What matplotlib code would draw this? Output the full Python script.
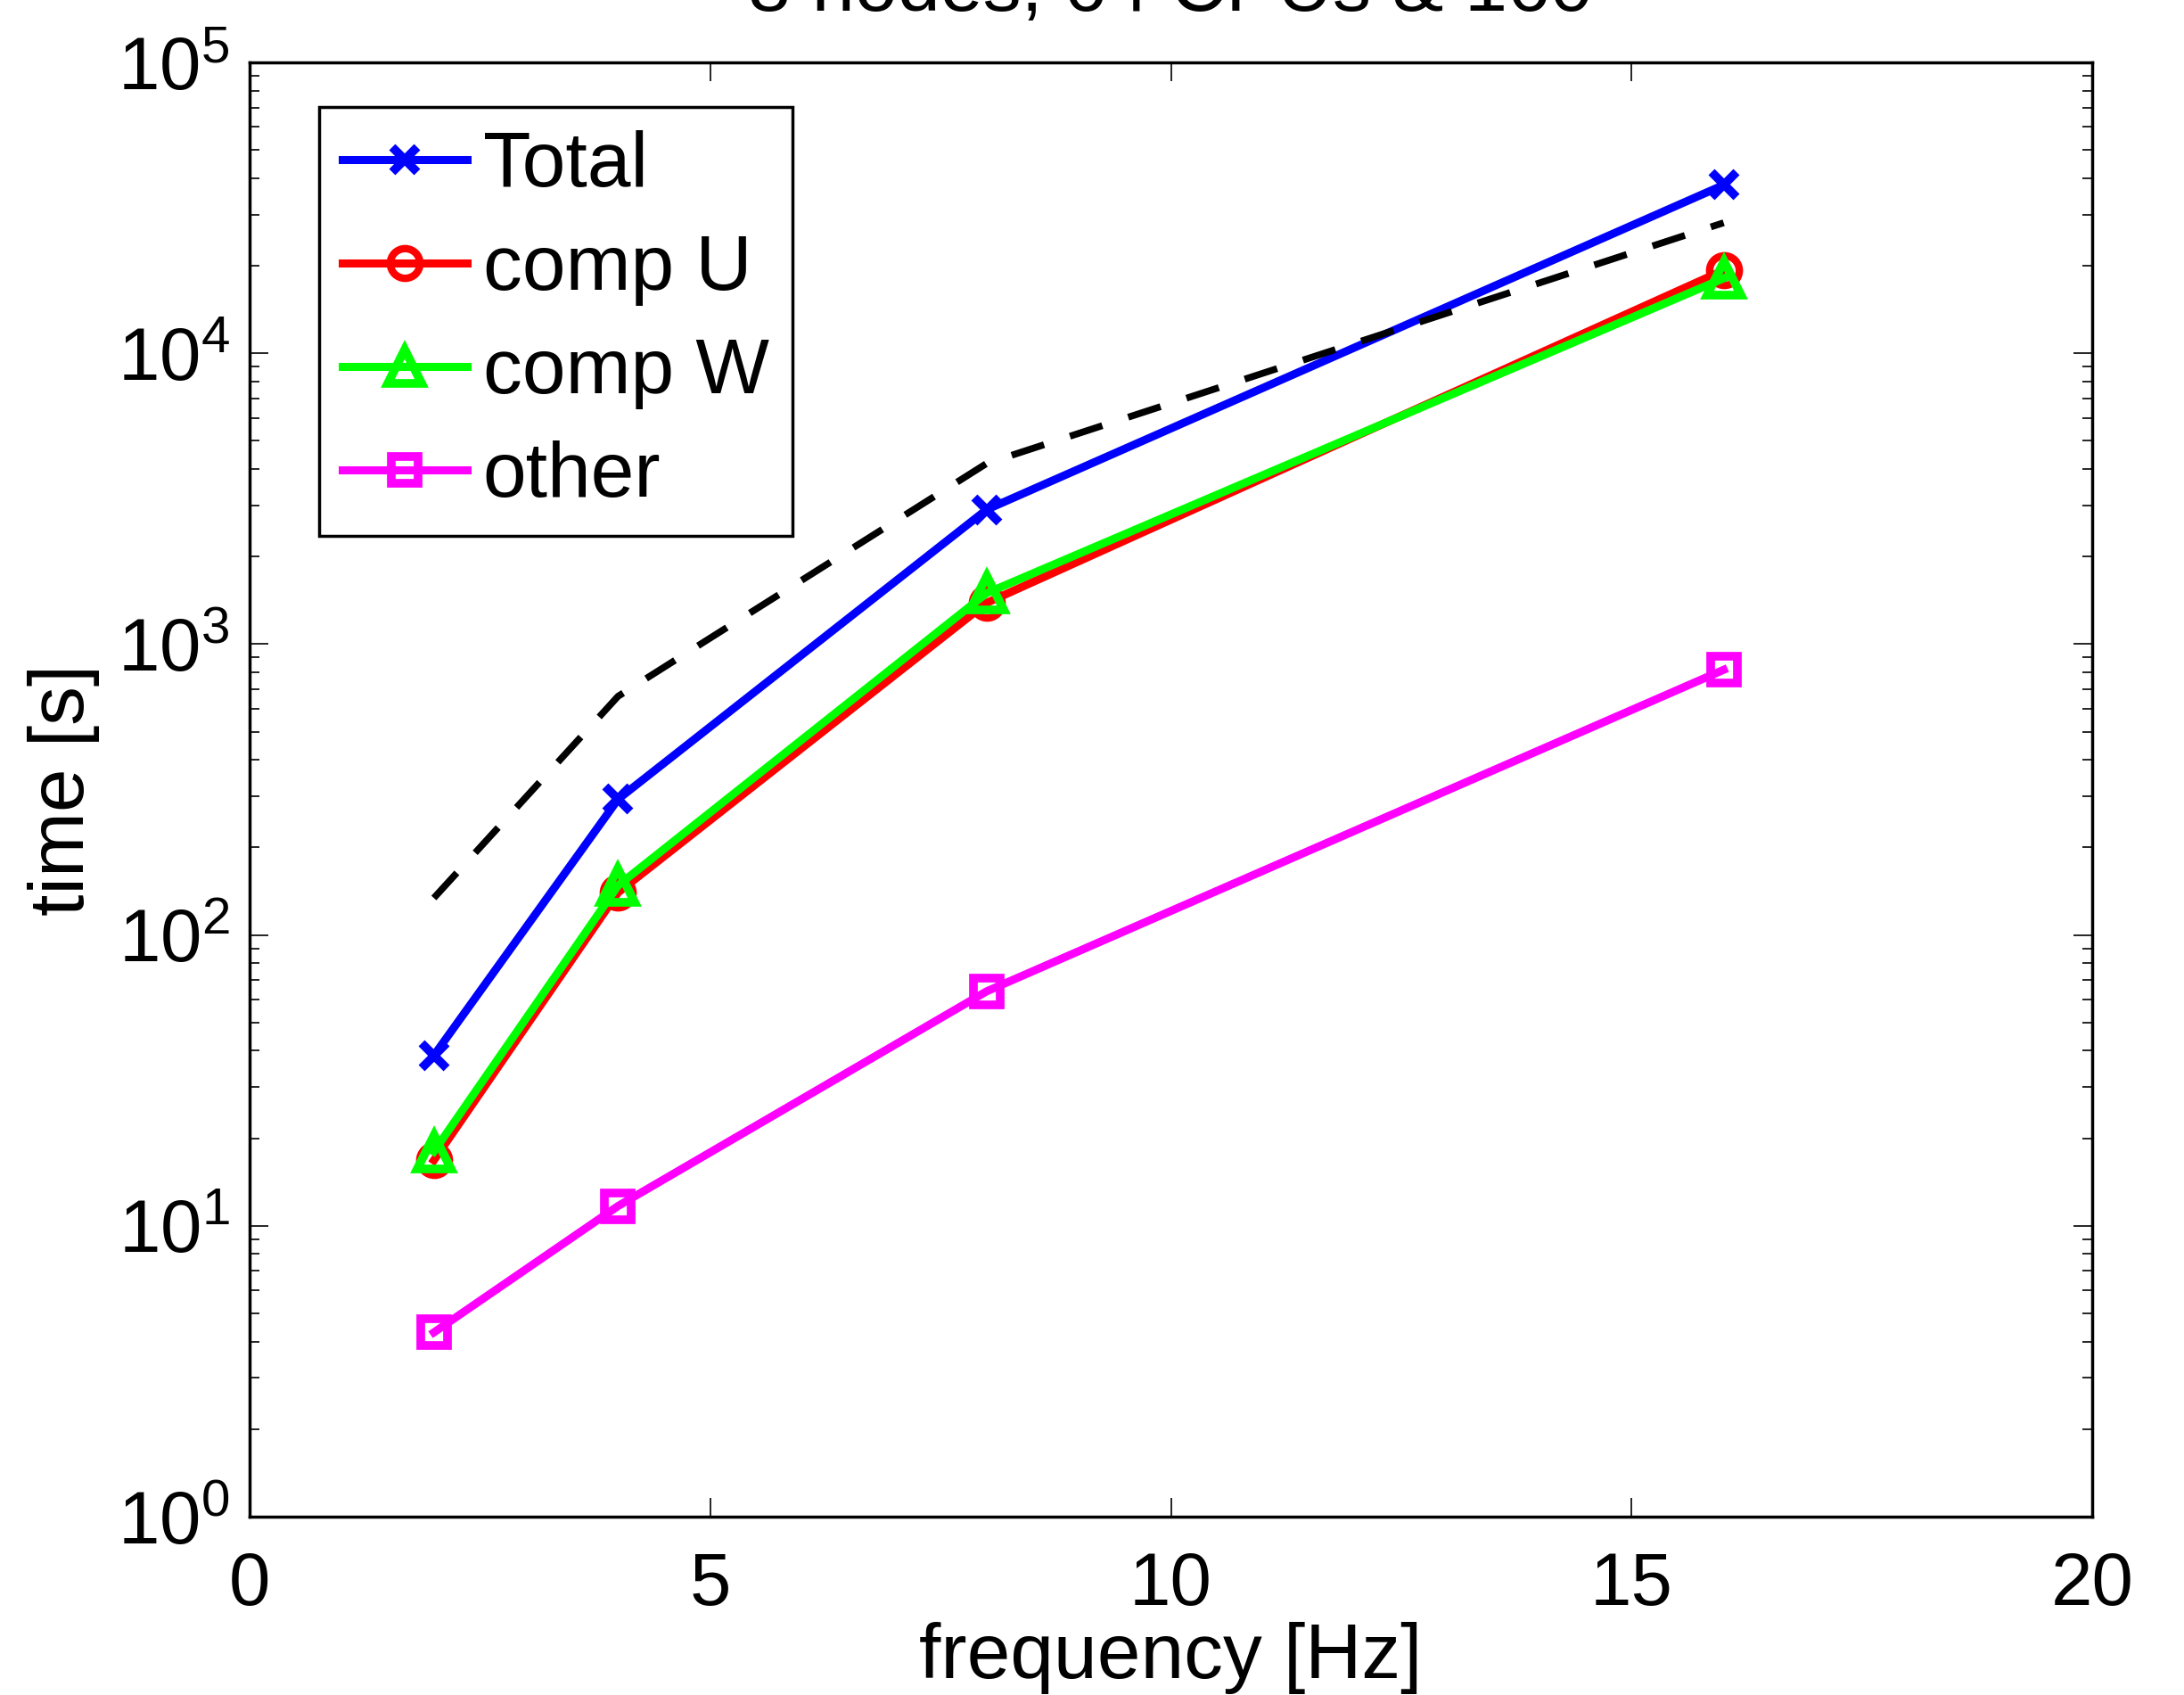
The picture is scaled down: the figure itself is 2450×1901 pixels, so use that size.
import numpy as np
import matplotlib
matplotlib.use("Agg")
import matplotlib.pyplot as plt

plt.rcParams['font.family'] = ['Liberation Sans', 'DejaVu Sans']
plt.rcParams['mathtext.fontset'] = 'custom'
plt.rcParams['mathtext.rm'] = 'Liberation Sans'
plt.rcParams['mathtext.it'] = 'Liberation Sans'

# data
freq = [2, 4, 8, 16]
total = [38.5, 293, 2900, 37900]
comp_u = [16.8, 140, 1386, 19300]
comp_w = [18.0, 148, 1497, 18100]
other = [4.3, 11.7, 64, 816]
estimate = [134, 662, 4180, 28100]

title = "8 nodes, 64 CPUs & 160"

fig = plt.figure(figsize=(24.5, 19.01), dpi=100)
ax = fig.add_axes([280 / 2450, 1 - 1701 / 1901, 2067 / 2450, 1631 / 1901])

lw = 6.5
ax.plot(freq, total, color='#0000ff', lw=lw, marker='x', ms=20, mew=7, label='Total')
ax.plot(freq, comp_u, color='#ff0000', lw=lw, marker='o', ms=24, mew=6, mfc='none', label='comp U')
ax.plot(freq, comp_w, color='#00ff00', lw=lw, marker='^', ms=28, mew=7, mfc='none', label='comp W')
ax.plot(freq, other, color='#ff00ff', lw=lw, marker='s', ms=21, mew=7, mfc='none', label='other')
ax.plot(freq, estimate, color='black', lw=5.5, ls=(0, (5, 4)))

ax.set_yscale('log')
ax.set_xlim(0, 20)
ax.set_ylim(1, 1e5)
ax.set_xticks([0, 5, 10, 15, 20])
ax.set_yticks([1e0, 1e1, 1e2, 1e3, 1e4, 1e5])
ax.tick_params(which='both', direction='in', top=True, right=True, labelsize=60)
ax.tick_params(axis='x', which='major', length=15, width=1.2, pad=27)
ax.tick_params(axis='y', which='major', length=15, width=1.2, pad=16)
ax.tick_params(axis='y', which='minor', length=8, width=1.2)
ax.tick_params(axis='x', which='minor', bottom=False, top=False)
for s in ax.spines.values():
    s.set_linewidth(2.5)

ax.set_xlabel('frequency [Hz]', fontsize=63, labelpad=2)
ax.set_ylabel('time [s]', fontsize=63, labelpad=14)

leg = ax.legend(loc='upper left', bbox_to_anchor=(78 / 2067, 1 - 50 / 1631),
                borderaxespad=0, fontsize=63, fancybox=False, framealpha=1,
                edgecolor='black', handlelength=1.6, handletextpad=0.2,
                labelspacing=0.4, borderpad=0.3)
leg.get_frame().set_linewidth(2.5)

fig.text(1313 / 2450, 1 - 12 / 1901, title, fontsize=62, ha='center', va='baseline')

fig.savefig('out.png', dpi=100)
